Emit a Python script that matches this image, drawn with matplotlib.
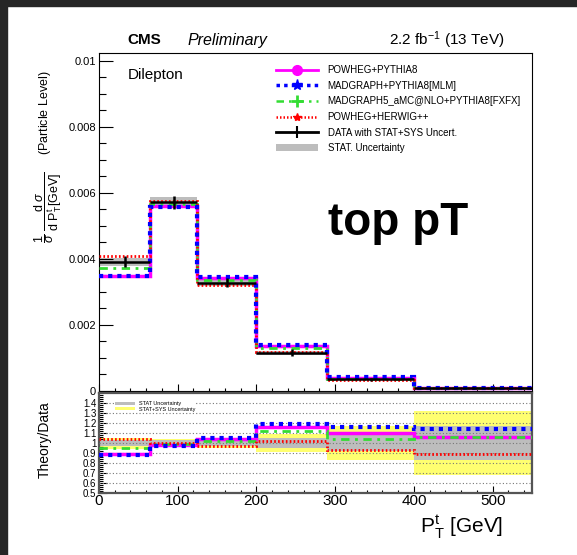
import matplotlib
matplotlib.use('Agg')
import matplotlib.pyplot as plt
import numpy as np
from matplotlib.lines import Line2D
from matplotlib.patches import Patch, Rectangle
from matplotlib.ticker import MultipleLocator, FixedLocator, NullFormatter

plt.rcParams['font.family'] = ['Liberation Sans', 'DejaVu Sans']
plt.rcParams['mathtext.fontset'] = 'custom'
plt.rcParams['mathtext.rm'] = 'Liberation Sans'
plt.rcParams['mathtext.it'] = 'Liberation Sans:italic'
plt.rcParams['mathtext.bf'] = 'Liberation Sans:bold'

# binning of top pT [GeV]
bin_edges = [0, 65, 125, 200, 290, 400, 550]

# normalised cross section (main panel)
data = [0.00392, 0.00571, 0.00328, 0.00116, 0.000354, 0.0000887]
data_err = [0.00018, 0.00019, 0.00014, 0.00010, 0.00004, 0.00003]
stat_err = [0.00012, 0.00017, 0.00010, 0.00006, 0.00003, 0.000015]

powheg_pythia8 = [0.00349, 0.00560, 0.00343, 0.00135, 0.000389, 0.0000940]
madgraph_mlm = [0.00347, 0.00557, 0.00346, 0.00139, 0.000411, 0.000102]
amcnlo_fxfx = [0.00372, 0.00565, 0.00335, 0.00131, 0.000370, 0.0000940]
powheg_herwig = [0.00408, 0.00574, 0.00320, 0.00119, 0.000329, 0.0000789]

# theory / data (ratio panel)
ratio_powheg_pythia8 = [0.89, 0.98, 1.045, 1.16, 1.10, 1.06]
ratio_madgraph_mlm = [0.885, 0.975, 1.055, 1.195, 1.16, 1.145]
ratio_amcnlo_fxfx = [0.95, 0.99, 1.02, 1.125, 1.045, 1.06]
ratio_powheg_herwig = [1.04, 1.005, 0.975, 1.025, 0.93, 0.89]
ratio_stat = [0.03, 0.03, 0.03, 0.05, 0.08, 0.17]
ratio_statsys = [0.055, 0.04, 0.05, 0.09, 0.167, 0.32]

labels = ["POWHEG+PYTHIA8", "MADGRAPH+PYTHIA8[MLM]",
          "MADGRAPH5_aMC@NLO+PYTHIA8[FXFX]", "POWHEG+HERWIG++",
          "DATA with STAT+SYS Uncert.", "STAT. Uncertainty"]

edges = np.array(bin_edges)
centers = 0.5 * (edges[1:] + edges[:-1])
widths = edges[1:] - edges[:-1]

green_ls = (0, (3, 2, 1, 2))
red_ls = (0, (0.6, 0.8))
blue_ls = (0, (1, 1.2))

W, H = 577, 555
fig = plt.figure(figsize=(W / 100, H / 100), dpi=100)

# screenshot border
fig.patches.append(Rectangle((0, 0), 7 / W, 1, transform=fig.transFigure, color='#262626', zorder=0))
fig.patches.append(Rectangle((0, 1 - 6 / H), 1, 6 / H, transform=fig.transFigure, color='#262626', zorder=0))

ax = fig.add_axes([99 / W, 1 - 391 / H, 433 / W, 338.5 / H])
axr = fig.add_axes([99 / W, 1 - 493 / H, 433 / W, 100 / H])

# ---- main panel
ax.bar(centers, 2 * np.array(stat_err), bottom=np.array(data) - np.array(stat_err),
       width=widths, color='#bdbdbd', linewidth=0, zorder=1)
ax.stairs(powheg_pythia8, edges, baseline=None, color='#ff00ff', lw=2.5, zorder=3)
ax.stairs(madgraph_mlm, edges, baseline=None, color='#0000ff', lw=3, ls=blue_ls, zorder=4)
ax.stairs(amcnlo_fxfx, edges, baseline=None, color='#33dd33', lw=2, ls=green_ls, zorder=3)
ax.stairs(powheg_herwig, edges, baseline=None, color='#ff0000', lw=2, ls=red_ls, zorder=3)
ax.errorbar(centers, data, xerr=widths / 2, yerr=data_err, fmt='none',
            ecolor='black', elinewidth=1.8, capsize=0, zorder=5)

ax.set_xlim(0, 550)
ax.set_ylim(0, 0.01025)
ax.yaxis.set_major_locator(FixedLocator([0, 0.002, 0.004, 0.006, 0.008, 0.01]))
ax.set_yticklabels(['0', '0.002', '0.004', '0.006', '0.008', '0.01'])
ax.yaxis.set_minor_locator(MultipleLocator(0.0005))
ax.xaxis.set_major_locator(MultipleLocator(100))
ax.xaxis.set_minor_locator(MultipleLocator(20))
ax.xaxis.set_major_formatter(NullFormatter())
ax.tick_params(axis='y', which='major', direction='in', length=10, width=0.8, labelsize=8, pad=2)
ax.tick_params(axis='y', which='minor', direction='in', length=5, width=0.8)
ax.tick_params(axis='x', which='major', direction='in', length=5, width=0.8)
ax.tick_params(axis='x', which='minor', direction='in', length=2.5, width=0.8)
for s in ax.spines.values():
    s.set_linewidth(0.8)

handles = [
    Line2D([], [], color='#ff00ff', lw=2, marker='o', ms=7),
    Line2D([], [], color='#0000ff', lw=2.5, ls=blue_ls, marker='*', ms=8),
    Line2D([], [], color='#33dd33', lw=1.8, ls=green_ls, marker='+', ms=8, mew=2),
    Line2D([], [], color='#ff0000', lw=1.8, ls=red_ls, marker='*', ms=6),
    Line2D([], [], color='black', lw=2, marker='|', ms=8, mew=1.5),
    Patch(facecolor='#bdbdbd', edgecolor='none'),
]
ax.legend(handles, labels, loc='upper left', bbox_to_anchor=(276 / W, 1 - 65 / H),
          bbox_transform=fig.transFigure, frameon=False, fontsize=7, handlelength=4.3,
          handletextpad=1.0, labelspacing=0.58, borderpad=0, borderaxespad=0)

ax.text(128 / W, 1 - 75 / H, 'Dilepton', transform=fig.transFigure, fontsize=11, va='center', ha='left')
ax.text(328 / W, 1 - 235 / H, 'top pT', transform=fig.transFigure, fontsize=33,
        fontweight='bold', va='baseline', ha='left')

# ---- ratio panel
axr.bar(centers, 2 * np.array(ratio_statsys), bottom=1 - np.array(ratio_statsys),
        width=widths, color='#ffff70', linewidth=0, zorder=1, label='STAT+SYS Uncertainty')
axr.bar(centers, 2 * np.array(ratio_stat), bottom=1 - np.array(ratio_stat),
        width=widths, color='#bdbdbd', linewidth=0, zorder=2, label='STAT Uncertainty')
for yv in [0.6, 0.7, 0.8, 0.9, 1.0, 1.1, 1.2, 1.3, 1.4]:
    axr.axhline(yv, color='#777777', lw=0.8, ls=(0, (1, 2)), zorder=3)
axr.stairs(ratio_powheg_pythia8, edges, baseline=None, color='#ff00ff', lw=2.5, zorder=4)
axr.stairs(ratio_madgraph_mlm, edges, baseline=None, color='#0000ff', lw=3, ls=blue_ls, zorder=5)
axr.stairs(ratio_amcnlo_fxfx, edges, baseline=None, color='#33dd33', lw=2, ls=green_ls, zorder=4)
axr.stairs(ratio_powheg_herwig, edges, baseline=None, color='#ff0000', lw=2, ls=red_ls, zorder=4)

axr.set_xlim(0, 550)
axr.set_ylim(0.5, 1.5)
axr.yaxis.set_major_locator(FixedLocator([0.5, 0.6, 0.7, 0.8, 0.9, 1.0, 1.1, 1.2, 1.3, 1.4]))
axr.set_yticklabels(['0.5', '0.6', '0.7', '0.8', '0.9', '1', '1.1', '1.2', '1.3', '1.4'])
axr.yaxis.set_minor_locator(MultipleLocator(0.02))
axr.xaxis.set_major_locator(MultipleLocator(100))
axr.xaxis.set_minor_locator(MultipleLocator(20))
axr.tick_params(axis='y', which='major', direction='in', length=6, width=0.8, labelsize=7, pad=2)
axr.tick_params(axis='y', which='minor', direction='in', length=3, width=0.8)
axr.tick_params(axis='x', which='major', direction='in', length=5, width=0.8, labelsize=11, pad=1)
axr.tick_params(axis='x', which='minor', direction='in', length=2.5, width=0.8)
for s in axr.spines.values():
    s.set_linewidth(1.6)
    s.set_color('#555555')

hh, ll = axr.get_legend_handles_labels()
axr.legend(hh[::-1], ll[::-1], loc='upper left', bbox_to_anchor=(112 / W, 1 - 398 / H),
           bbox_transform=fig.transFigure, fontsize=4, frameon=True, facecolor='white',
           edgecolor='none', framealpha=1, fancybox=False, handlelength=3.5, handleheight=0.6,
           labelspacing=0.05, borderpad=0.1, handletextpad=0.8)

# ---- texts around the pads
fig.text(127 / W, 1 - 40 / H, 'CMS', fontsize=11, fontweight='bold', va='center', ha='left')
fig.text(187 / W, 1 - 40 / H, 'Preliminary', fontsize=11.5, style='italic', va='center', ha='left')
fig.text(505 / W, 1 - 40 / H, r'2.2 fb$^{\mathregular{-1}}$ (13 TeV)', fontsize=11, va='center', ha='right')
fig.text(48 / W, 1 - 157 / H,
         r'$\dfrac{1}{\sigma}\ \dfrac{\mathrm{d}\ \sigma}{\mathrm{d\ P^{t}_{T}[GeV]}}$     (Particle Level)',
         fontsize=9, rotation=90, va='center', ha='center')
fig.text(45 / W, 1 - 440 / H, 'Theory/Data', fontsize=10, rotation=90, va='center', ha='center')
fig.text(503 / W, 1 - 527 / H, r'P$_{\mathregular{T}}^{\mathregular{t}}$ [GeV]', fontsize=15, va='center', ha='right')

fig.savefig('out.png', dpi=100)
